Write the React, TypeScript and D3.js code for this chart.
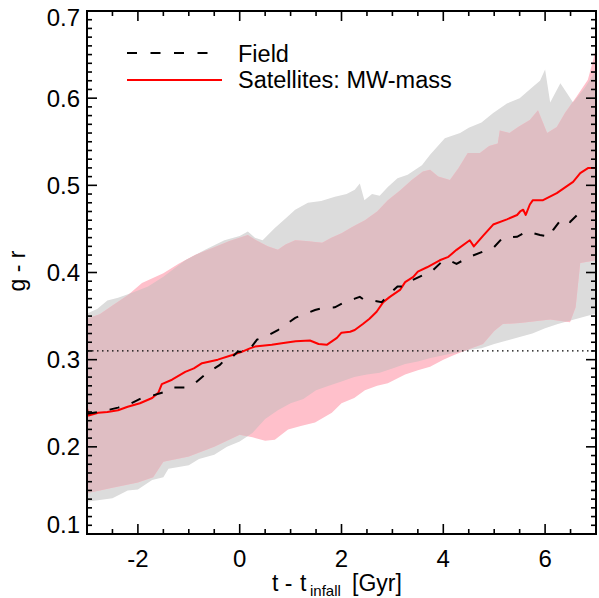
import React from "react";
import * as d3 from "d3";

// ---- data ----
const grayUpper: [number, number][] = [
  [-3, 0.353], [-2.8, 0.358], [-2.6, 0.368], [-2.39, 0.371], [-2.1, 0.377], [-1.8, 0.384], [-1.5, 0.395],
  [-1.07, 0.414], [-0.68, 0.426], [-0.3, 0.437], [0.0, 0.442], [0.16, 0.447], [0.3, 0.44], [0.45, 0.437],
  [0.69, 0.451], [0.9, 0.462], [1.09, 0.472], [1.34, 0.48], [1.6, 0.482], [1.87, 0.487], [2.1, 0.49],
  [2.26, 0.495], [2.36, 0.502], [2.45, 0.483], [2.6, 0.49], [2.75, 0.488], [2.91, 0.498], [3.1, 0.508],
  [3.3, 0.512], [3.58, 0.523], [3.74, 0.535], [4.03, 0.554], [4.33, 0.56], [4.5, 0.566], [4.75, 0.572],
  [4.98, 0.583], [5.25, 0.594], [5.5, 0.6], [5.76, 0.613], [5.9, 0.62], [6.0, 0.633], [6.1, 0.595],
  [6.3, 0.617], [6.55, 0.595], [6.78, 0.612], [7.0, 0.632],
];
const grayLower: [number, number][] = [
  [-3, 0.137], [-2.5, 0.141], [-2.2, 0.15], [-2, 0.151], [-1.72, 0.162], [-1.5, 0.165], [-1.4, 0.175],
  [-1, 0.179], [-0.8, 0.186], [-0.5, 0.191], [-0.25, 0.2], [0, 0.206], [0.25, 0.216], [0.5, 0.232],
  [0.75, 0.242], [1.0, 0.25], [1.25, 0.255], [1.5, 0.265], [1.75, 0.27], [2.0, 0.275], [2.25, 0.28],
  [2.5, 0.283], [2.75, 0.285], [3.0, 0.29], [3.25, 0.295], [3.5, 0.298], [3.75, 0.302], [4.0, 0.305],
  [4.25, 0.308], [4.5, 0.311], [4.75, 0.313], [5.0, 0.318], [5.25, 0.322], [5.5, 0.326], [5.75, 0.33],
  [6.0, 0.336], [6.25, 0.341], [6.5, 0.345], [6.75, 0.349], [7.0, 0.353],
];
const pinkUpper: [number, number][] = [
  [-3, 0.347], [-2.75, 0.352], [-2.5, 0.362], [-2.2, 0.374], [-1.92, 0.388], [-1.5, 0.399], [-1.2, 0.41],
  [-0.88, 0.42], [-0.5, 0.429], [-0.2, 0.436], [0.16, 0.443], [0.35, 0.436], [0.55, 0.43], [0.75, 0.426],
  [0.9, 0.432], [1.09, 0.437], [1.3, 0.436], [1.62, 0.434], [1.8, 0.44], [2.0, 0.445], [2.2, 0.452],
  [2.46, 0.46], [2.7, 0.47], [2.91, 0.483], [3.15, 0.494], [3.38, 0.506], [3.6, 0.516], [3.74, 0.518],
  [3.9, 0.51], [4.13, 0.506], [4.3, 0.52], [4.48, 0.537], [4.72, 0.537], [4.9, 0.545], [5.07, 0.548],
  [5.11, 0.563], [5.3, 0.56], [5.47, 0.567], [5.7, 0.575], [5.86, 0.586], [6.04, 0.56], [6.23, 0.567],
  [6.39, 0.583], [6.62, 0.602], [6.84, 0.621], [6.95, 0.645], [7.0, 0.659],
];
const pinkLower: [number, number][] = [
  [-3, 0.147], [-2.75, 0.15], [-2.5, 0.153], [-2, 0.159], [-1.7, 0.165], [-1.5, 0.183], [-1, 0.189],
  [-0.5, 0.2], [0, 0.214], [0.25, 0.211], [0.5, 0.207], [0.69, 0.208], [0.95, 0.22], [1.2, 0.224],
  [1.48, 0.228], [1.81, 0.239], [2.0, 0.25], [2.25, 0.256], [2.46, 0.265], [2.7, 0.27], [2.91, 0.273],
  [3.25, 0.283], [3.5, 0.288], [3.74, 0.292], [4.0, 0.3], [4.2, 0.305], [4.5, 0.312], [4.78, 0.318],
  [5.0, 0.333], [5.17, 0.341], [5.5, 0.342], [6.1, 0.346], [6.49, 0.343], [6.6, 0.36], [6.69, 0.411],
  [7.0, 0.414],
];
const satellites: [number, number][] = [
  [-3, 0.244], [-2.97, 0.236], [-2.78, 0.239], [-2.6, 0.24], [-2.39, 0.242], [-2.2, 0.246], [-1.96, 0.25],
  [-1.72, 0.256], [-1.6, 0.262], [-1.53, 0.272], [-1.33, 0.277], [-1.07, 0.286], [-0.9, 0.29],
  [-0.74, 0.296], [-0.43, 0.3], [-0.16, 0.305], [0.04, 0.309], [0.2, 0.313], [0.3, 0.315], [0.63, 0.317],
  [0.86, 0.319], [1.1, 0.321], [1.38, 0.322], [1.55, 0.318], [1.71, 0.317], [1.91, 0.325], [2.0, 0.331],
  [2.17, 0.332], [2.26, 0.334], [2.42, 0.341], [2.55, 0.347], [2.69, 0.355], [2.82, 0.366], [2.95, 0.372],
  [3.15, 0.38], [3.25, 0.389], [3.41, 0.395], [3.5, 0.401], [3.68, 0.406], [3.93, 0.414], [4.1, 0.418],
  [4.26, 0.426], [4.52, 0.437], [4.6, 0.43], [4.78, 0.442], [4.98, 0.455], [5.25, 0.461], [5.45, 0.466],
  [5.51, 0.47], [5.57, 0.472], [5.62, 0.466], [5.7, 0.478], [5.76, 0.483], [5.96, 0.483], [6.23, 0.491],
  [6.45, 0.5], [6.55, 0.504], [6.69, 0.514], [6.85, 0.52], [7.0, 0.52],
];
const field: [number, number][] = [
  [-3, 0.238], [-2.75, 0.24], [-2.39, 0.245], [-2.2, 0.248], [-1.92, 0.256], [-1.7, 0.259], [-1.47, 0.263],
  [-1.33, 0.268], [-1.07, 0.268], [-0.88, 0.273], [-0.68, 0.283], [-0.55, 0.288], [-0.39, 0.294],
  [-0.29, 0.3], [-0.15, 0.303], [-0.04, 0.309], [0.16, 0.309], [0.34, 0.323], [0.5, 0.326], [0.75, 0.334],
  [0.95, 0.342], [1.09, 0.348], [1.22, 0.351], [1.48, 0.357], [1.62, 0.359], [1.87, 0.36], [2.03, 0.365],
  [2.26, 0.37], [2.36, 0.372], [2.46, 0.368], [2.6, 0.368], [2.79, 0.366], [2.99, 0.378], [3.1, 0.384],
  [3.2, 0.384], [3.38, 0.391], [3.6, 0.397], [3.77, 0.401], [4.0, 0.414], [4.15, 0.413], [4.26, 0.41],
  [4.52, 0.418], [4.78, 0.424], [4.98, 0.428], [5.17, 0.44], [5.45, 0.441], [5.64, 0.447], [5.9, 0.443],
  [6.1, 0.441], [6.16, 0.449], [6.33, 0.462], [6.49, 0.458], [6.63, 0.466], [6.75, 0.469], [6.85, 0.47],
];
const referenceColor = 0.31;
const xMajorTicks = [-2, 0, 2, 4, 6];
const yMajorTicks = [0.1, 0.2, 0.3, 0.4, 0.5, 0.6, 0.7];
const legendLabels = ["Field", "Satellites: MW-mass"];

const W = 599;
const H = 598;
const L = 87, R = 596, T = 11, B = 534;
const FONT = "'Liberation Sans', Arial, Helvetica, sans-serif";

export default function App() {
  const x = d3.scaleLinear().domain([-3, 7]).range([L, R]);
  const y = d3.scaleLinear().domain([0.1, 0.7]).range([B, T]);
  const line = d3.line<[number, number]>().x((d) => x(d[0])).y((d) => y(d[1]));
  const band = (up: [number, number][], lo: [number, number][]) =>
    (line([...up, ...lo.slice().reverse()]) || "") + "Z";

  const grayPath = band(grayUpper, grayLower);
  const pinkPath = band(pinkUpper, pinkLower);

  const xMinor = d3.range(-3, 7.001, 0.5).filter((v) => !xMajorTicks.some((m) => Math.abs(m - v) < 1e-6));
  const yMinor = d3.range(10, 71).map((v) => v / 100).filter((v) => Math.round(v * 100) % 10 !== 0);

  const tickStroke = { stroke: "#000", strokeWidth: 1.6 };

  return (
    <svg width={W} height={H} style={{ position: "absolute", left: 0, top: 0, background: "#fff" }}>
      <defs>
        <clipPath id="plot">
          <rect x={L} y={T} width={R - L} height={B - T} />
        </clipPath>
        <clipPath id="grayClip">
          <path d={grayPath} />
        </clipPath>
      </defs>
      <g clipPath="url(#plot)">
        <path d={grayPath} fill="#dcdcdc" />
        <path d={pinkPath} fill="#ffc0cb" />
        <g clipPath="url(#grayClip)">
          <path d={pinkPath} fill="#dfbec3" />
        </g>
        <line x1={L} x2={R} y1={y(referenceColor)} y2={y(referenceColor)} stroke="#000" strokeWidth={1.2} strokeDasharray="1.5,3.5" />
        <path d={line(satellites) || ""} fill="none" stroke="#ff0000" strokeWidth={2} strokeLinejoin="round" />
        <path d={line(field) || ""} fill="none" stroke="#000" strokeWidth={2} strokeDasharray="10,13" />
      </g>

      {/* frame */}
      <rect x={L} y={T} width={R - L} height={B - T} fill="none" stroke="#000" strokeWidth={2} />

      {/* x ticks */}
      {xMajorTicks.map((v) => (
        <g key={"xm" + v}>
          <line x1={x(v)} x2={x(v)} y1={B} y2={B - 10} {...tickStroke} />
          <line x1={x(v)} x2={x(v)} y1={T} y2={T + 10} {...tickStroke} />
          <text x={x(v)} y={567} textAnchor="middle" fontFamily={FONT} fontSize={24}>{v}</text>
        </g>
      ))}
      {xMinor.map((v) => (
        <g key={"xn" + v}>
          <line x1={x(v)} x2={x(v)} y1={B} y2={B - 5} {...tickStroke} />
          <line x1={x(v)} x2={x(v)} y1={T} y2={T + 5} {...tickStroke} />
        </g>
      ))}

      {/* y ticks */}
      {yMajorTicks.map((v) => (
        <g key={"ym" + v}>
          <line x1={L} x2={L + 10} y1={y(v)} y2={y(v)} {...tickStroke} />
          <line x1={R} x2={R - 10} y1={y(v)} y2={y(v)} {...tickStroke} />
          <text x={80} y={Math.min(Math.max(y(v) + 8.5, 26), 533)} textAnchor="end" fontFamily={FONT} fontSize={24}>
            {v.toFixed(1)}
          </text>
        </g>
      ))}
      {yMinor.map((v) => (
        <g key={"yn" + v}>
          <line x1={L} x2={L + 5} y1={y(v)} y2={y(v)} {...tickStroke} />
          <line x1={R} x2={R - 5} y1={y(v)} y2={y(v)} {...tickStroke} />
        </g>
      ))}

      {/* axis titles */}
      <text fontFamily={FONT} fontSize={23} y={591}>
        <tspan x={272}>t -</tspan>
        <tspan x={300}>t</tspan>
        <tspan x={310} dy={5} fontSize={15}>infall</tspan>
        <tspan x={352} dy={-5}>[Gyr]</tspan>
      </text>
      <text
        transform="translate(25,271) rotate(-90)"
        textAnchor="middle"
        fontFamily={FONT}
        fontSize={23}
      >
        g - r
      </text>

      {/* legend */}
      <line x1={127} x2={210} y1={53} y2={53} stroke="#000" strokeWidth={2} strokeDasharray="10,13.5" />
      <text x={238} y={61.5} fontFamily={FONT} fontSize={23.5}>{legendLabels[0]}</text>
      <line x1={127} x2={222} y1={80} y2={80} stroke="#ff0000" strokeWidth={2} />
      <text x={238} y={88} fontFamily={FONT} fontSize={23.5}>{legendLabels[1]}</text>
    </svg>
  );
}
